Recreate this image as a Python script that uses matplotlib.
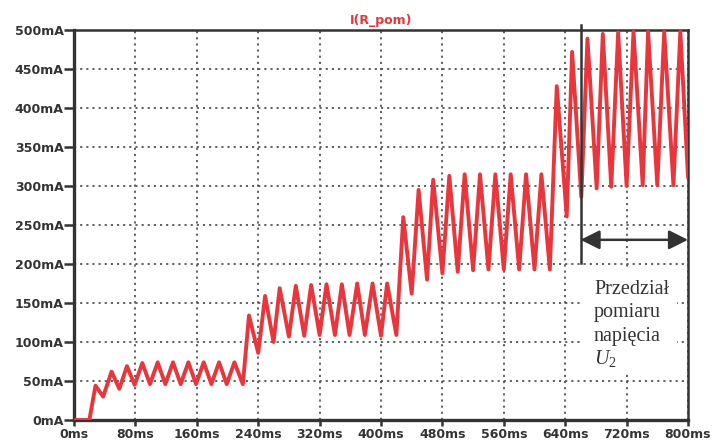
import numpy as np
import matplotlib
matplotlib.use("Agg")
import matplotlib.pyplot as plt
from matplotlib.patches import Rectangle

plt.rcParams['mathtext.fontset'] = 'custom'
plt.rcParams['mathtext.rm'] = 'Liberation Serif'
plt.rcParams['mathtext.it'] = 'Liberation Serif:italic'

t_ms = [0, 20, 28, 38, 49, 59, 69, 79, 89, 99, 109, 119, 129, 139, 149, 159,
        169, 179, 189, 199, 209, 220, 228, 240, 249, 260, 268, 280, 289, 300,
        309, 320, 329, 340, 349, 359, 369, 379, 389, 400, 408, 420, 429, 440,
        449, 460, 468, 480, 489, 500, 509, 520, 529, 540, 549, 560, 569, 580,
        589, 600, 609, 620, 629, 642, 649, 661, 669, 681, 689, 700, 709, 720,
        729, 741, 748, 760, 769, 781, 790, 800]
i_ma = [0, 0, 44, 30, 62, 40, 69, 45, 73, 46, 74, 46, 74, 46, 74, 46,
        74, 46, 74, 46, 74, 46, 134, 86, 159, 100, 169, 107, 172, 108,
        173, 109, 174, 109, 174, 109, 175, 109, 175, 108, 175, 109, 260, 162,
        295, 180, 308, 188, 313, 190, 315, 192, 315, 193, 315, 193, 315, 193,
        315, 193, 315, 193, 428, 261, 472, 286, 489, 297, 495, 299, 497, 300,
        498, 301, 498, 301, 498, 301, 498, 312]

x_ticks = [0, 80, 160, 240, 320, 400, 480, 560, 640, 720, 800]
x_labels = [f"{v}ms" for v in x_ticks]
y_ticks = [0, 50, 100, 150, 200, 250, 300, 350, 400, 450, 500]
y_labels = [f"{v}mA" for v in y_ticks]

# measurement window annotation
window_start, window_end = 660, 800
arrow_level = 231
note_lines = ['Przedział', 'pomiaru', 'napięcia', '$U_2$']

red = '#e8363c'
dark = '#333333'

fig = plt.figure(figsize=(7.21, 4.44), dpi=100)
ax = fig.add_axes([74 / 721, 1 - 420 / 444, 614 / 721, 390 / 444])

ax.plot(t_ms, i_ma, color=red, lw=2.8, solid_joinstyle='round', zorder=3)

ax.set_xlim(0, 800)
ax.set_ylim(0, 500)
ax.set_xticks(x_ticks)
ax.set_xticklabels(x_labels, fontweight='bold')
ax.set_yticks(y_ticks)
ax.set_yticklabels(y_labels, fontweight='bold')
ax.tick_params(axis='x', length=4, width=1.8, color=dark, pad=1.5,
               labelsize=9, labelcolor=dark)
ax.tick_params(axis='y', length=7, width=1.8, color=dark, pad=0.5,
               labelsize=9, labelcolor=dark)

ax.set_axisbelow(True)
ax.grid(True, color='#555555', linestyle=(0, (1.2, 2.2)), linewidth=1.3)

for side in ['left', 'bottom']:
    ax.spines[side].set_linewidth(2.4)
    ax.spines[side].set_color(dark)
for side in ['top', 'right']:
    ax.spines[side].set_linewidth(1.8)
    ax.spines[side].set_color(dark)

ax.set_title('I(R_pom)', color=red, fontweight='bold', fontsize=9, pad=4)

# white box behind the note
ax.add_patch(Rectangle((661, 61), 125, 134, facecolor='white',
                       edgecolor='none', zorder=1.5))

ax.plot([window_start, window_start], [201, 506], color=dark, lw=1.8,
        clip_on=False, zorder=4)
ax.annotate('', xy=(window_end, arrow_level), xytext=(window_start, arrow_level),
            arrowprops=dict(arrowstyle='<|-|>,head_length=0.58,head_width=0.29',
                            color=dark, lw=1.8, mutation_scale=20,
                            shrinkA=0, shrinkB=0), zorder=4)

for k, line in enumerate(note_lines):
    ax.text(677.5, 161.5 - 30 * k, line, family='Liberation Serif',
            fontsize=14.5, color=dark, va='baseline', ha='left', zorder=5)

fig.savefig('out.png', dpi=100)
